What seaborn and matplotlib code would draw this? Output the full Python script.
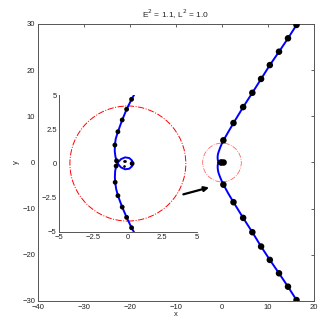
import pandas as pd
import matplotlib
matplotlib.use("Agg")
import matplotlib.pyplot as plt
import seaborn as sns
from matplotlib.patches import Circle

# orbit (ordered along the path)
curve_x = [16.2, 14.35, 12.4, 10.4, 8.5, 6.6, 4.6, 2.5, 1.3, 0.27, -0.09, -0.41, -0.72, -0.88,
           -0.94, -0.95, -0.9, -0.82, -0.7, -0.5, -0.2, 0.1, 0.3, 0.38, 0.3, 0.1, -0.2, -0.5,
           -0.7, -0.85, -0.92, -0.94, -0.92, -0.85, -0.72, -0.41, -0.09, 0.27, 1.3, 2.5, 4.6,
           6.6, 8.5, 10.4, 12.4, 14.35, 16.2]
curve_y = [29.8, 26.9, 24.0, 21.1, 18.1, 15.1, 12.0, 8.55, 6.5, 4.69, 3.96, 3.18, 2.32, 1.8,
           1.35, 0.9, 0.5, 0.2, -0.05, -0.28, -0.42, -0.38, -0.2, 0.0, 0.22, 0.4, 0.45, 0.32,
           0.1, -0.18, -0.55, -0.95, -1.37, -1.85, -2.35, -3.18, -3.93, -4.69, -6.6, -8.6, -12.0,
           -15.1, -18.2, -21.1, -24.0, -26.9, -29.8]

# sample dots, coarse (main) and fine (inset)
main_dot_x = [16.2, 14.35, 12.4, 10.4, 8.5, 6.6, 4.6, 2.5, 0.3, -0.2, 0.35,
              0.3, 2.5, 4.6, 6.6, 8.5, 10.4, 12.4, 14.35, 16.2]
main_dot_y = [29.8, 26.9, 24.0, 21.1, 18.1, 15.1, 12.0, 8.55, 4.8, 0.0, 0.0,
              -4.8, -8.6, -12.0, -15.1, -18.2, -21.1, -24.0, -26.9, -29.8]
inset_dot_x = [0.27, -0.09, -0.41, -0.72, -0.94, -0.82, -0.85, 0.31,
               -0.92, -0.72, -0.41, -0.09, 0.27]
inset_dot_y = [4.69, 3.96, 3.18, 2.32, 1.35, 0.2, -0.18, 0.0,
               -1.37, -2.35, -3.18, -3.93, -4.69]
centre_x = [-0.3, -0.2, -0.25]
centre_y = [0.15, 0.15, -0.2]

circle_r = 4.2
arrow_tail = (-8.4, -6.9)
arrow_head = (-2.8, -5.4)

df_curve = pd.DataFrame({"x": curve_x, "y": curve_y})
df_main = pd.DataFrame({"x": main_dot_x, "y": main_dot_y})
df_inset = pd.DataFrame({"x": inset_dot_x, "y": inset_dot_y})

sns.set_style("white")
plt.rcParams["font.family"] = ["Liberation Sans", "DejaVu Sans"]
plt.rcParams["xtick.direction"] = "in"
plt.rcParams["ytick.direction"] = "in"

fig = plt.figure(figsize=(3.27, 3.20), dpi=100)
ax = fig.add_axes([0.1162, 0.0594, 0.844, 0.8656])

sns.lineplot(data=df_curve, x="x", y="y", sort=False, estimator=None,
             color="#0000ff", lw=1.4, ax=ax, zorder=3)
sns.scatterplot(data=df_main, x="x", y="y", color="black", s=22,
                edgecolor="none", ax=ax, zorder=4)
ax.add_patch(Circle((0, 0), circle_r, fill=False, ec="red", lw=0.6,
                    ls="-.", alpha=0.6, zorder=2))
ax.annotate("", xy=arrow_head, xytext=arrow_tail,
            arrowprops=dict(arrowstyle="-|>", color="black", lw=1.6,
                            mutation_scale=7, shrinkA=0, shrinkB=0))

ax.set_xlim(-40, 20)
ax.set_ylim(-30, 30)
ax.set_xticks(range(-40, 21, 10))
ax.set_yticks(range(-30, 31, 10))
ax.set_xticklabels(["\u221240", "\u221230", "\u221220", "\u221210", "0", "10", "20"])
ax.set_yticklabels(["\u221230", "\u221220", "\u221210", "0", "10", "20", "30"])
ax.tick_params(labelsize=5.5, length=2.5, width=0.5, top=True, right=True,
               colors="#222222")
ax.tick_params(axis="x", pad=2.5)
ax.tick_params(axis="y", pad=2)
ax.set_xlabel("x", fontsize=5.5, labelpad=0)
ax.set_ylabel("y", fontsize=5.5, labelpad=2)
ax.set_title("E$^2$ = 1.1, L$^2$ = 1.0", fontsize=6, pad=4)
for sp in ax.spines.values():
    sp.set_linewidth(0.7)
    sp.set_color("#555555")

# zoomed inset
axi = fig.add_axes([0.180, 0.275, 0.422, 0.428])
sns.lineplot(data=df_curve, x="x", y="y", sort=False, estimator=None,
             color="#0000ff", lw=1.4, ax=axi, zorder=3)
sns.scatterplot(data=df_inset, x="x", y="y", color="black", s=12,
                edgecolor="none", ax=axi, zorder=4)
axi.scatter(centre_x, centre_y, color="black", s=0.8, zorder=4)
axi.add_patch(Circle((0, 0), circle_r, fill=False, ec="red", lw=0.7,
                     ls="-.", zorder=2))
axi.set_xlim(-5, 5)
axi.set_ylim(-5, 5)
axi.set_xticks([-5, -2.5, 0, 2.5, 5])
axi.set_yticks([-5, -2.5, 0, 2.5, 5])
axi.set_xticklabels(["\u22125", "\u22122.5", "0", "2.5", "5"])
axi.set_yticklabels(["\u22125", "\u22122.5", "0", "2.5", "5"])
axi.tick_params(labelsize=5.5, length=2, width=0.5, pad=1.5, colors="#222222")
axi.set_xlabel("")
axi.set_ylabel("")
axi.patch.set_alpha(0)
axi.spines["top"].set_visible(False)
axi.spines["right"].set_visible(False)
for s in ["left", "bottom"]:
    axi.spines[s].set_linewidth(0.7)
    axi.spines[s].set_color("#555555")

fig.savefig("out.png", dpi=100)
